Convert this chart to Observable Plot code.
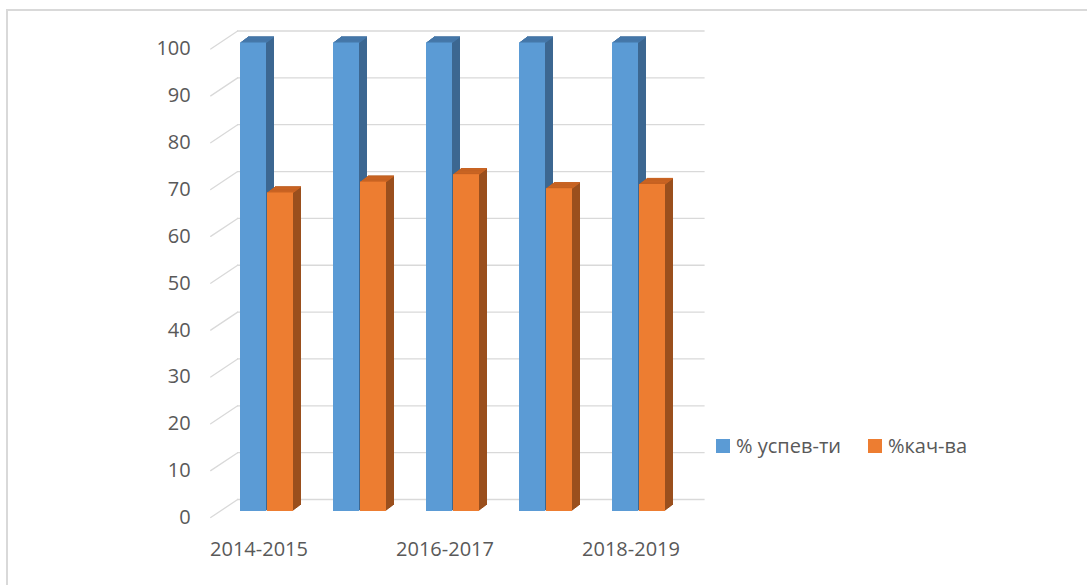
<!DOCTYPE html>
<html>
<head>
<meta charset="utf-8">
<script src="https://cdn.jsdelivr.net/npm/d3@7"></script>
<script src="https://cdn.jsdelivr.net/npm/@observablehq/plot@0.6"></script>
<style>
  body { margin: 0; background: #fff; font-family: "Open Sans", sans-serif; }
  #frame { position: absolute; left: 6px; top: 9px; width: 1100px; height: 600px; border: 2px solid #d9d9d9; box-sizing: border-box; }
  #chart { position: absolute; left: 0; top: 0; }
  .leg { position: absolute; top: 433px; display: flex; align-items: center; font-size: 20px; color: #595959; line-height: 26px; white-space: nowrap; }
  .sw { width: 14px; height: 14px; margin-right: 6px; }
</style>
</head>
<body>
<div id="frame"></div>
<div id="chart"></div>
<div id="legend"></div>
<script>
// ---- data ----
const years = ["2014-2015", "2015-2016", "2016-2017", "2017-2018", "2018-2019"];
const xTickLabels = ["2014-2015", "2016-2017", "2018-2019"];
const seriesNames = ["% успев-ти", "%кач-ва"];
const uspev = [100, 100, 100, 100, 100];
const kach = [68, 70.3, 71.9, 68.9, 69.8];
const yTicks = [0, 10, 20, 30, 40, 50, 60, 70, 80, 90, 100];
const colors = ["#5b9bd5", "#ed7d31"];
const topColors = ["#4678aa", "#c96423"];
const sideColors = ["#3c6791", "#9a4f1d"];

// ---- layout ----
const W = 1087, H = 585;
const mL = 219.2, mR = 400.2, mT = 42.5, mB = 74;
const pI = 0.4255, pO = 0.2;
const step = (W - mL - mR) / (years.length - pI + 2 * pO);
const half = step * (1 - pI) / 2;
const depth = 8, slope = 0.75;

const seriesData = [uspev, kach].map((vals, s) =>
  years.map((year, i) => ({ year, series: seriesNames[s], value: vals[i] }))
);

const lineShape = { draw(ctx, l) { ctx.moveTo(0, 0); ctx.lineTo(0, -l); } };

const marks = [
  Plot.ruleY(yTicks, { y: d => d, dx: 17.8, dy: -12, stroke: "#d9d9d9", strokeWidth: 1.3 }),
  Plot.vector(yTicks, { y: d => d, frameAnchor: "left", dx: -9, dy: 6, length: 32.4, rotate: 56.3, anchor: "start", shape: lineShape, stroke: "#d9d9d9", strokeWidth: 1.3 })
];

seriesData.forEach((data, s) => {
  const inset = s === 0 ? { insetRight: half } : { insetLeft: half };
  for (let k = depth; k >= 1; k--) {
    marks.push(Plot.barY(data, { x: "year", y: "value", fill: sideColors[s], dx: k, dy: -k * slope, ...inset }));
  }
  for (let k = 0; k <= depth; k++) {
    marks.push(Plot.tickY(data, { x: "year", y: "value", stroke: topColors[s], strokeWidth: 1.2, dx: k, dy: -k * slope, ...inset }));
  }
  marks.push(Plot.barY(data, { x: "year", y: "value", fill: colors[s], ...inset }));
});

marks.push(Plot.axisY({ ticks: yTicks, tickSize: 0, tickPadding: 29, dy: 6 }));
marks.push(Plot.axisX({ ticks: xTickLabels, tickSize: 0, tickPadding: 30, dx: -8 }));

const chart = Plot.plot({
  width: W, height: H,
  marginLeft: mL, marginRight: mR, marginTop: mT, marginBottom: mB,
  style: { fontFamily: "Open Sans", fontSize: "20px", color: "#595959", background: "transparent" },
  x: { domain: years, paddingInner: pI, paddingOuter: pO, label: null },
  y: { domain: [0, 100], label: null },
  marks
});
document.getElementById("chart").appendChild(chart);

// ---- legend ----
const legend = document.getElementById("legend");
const legLeft = [716, 868];
seriesNames.forEach((name, s) => {
  const item = document.createElement("div");
  item.className = "leg";
  item.style.left = legLeft[s] + "px";
  const sw = document.createElement("span");
  sw.className = "sw";
  sw.style.background = colors[s];
  const t = document.createElement("span");
  t.textContent = name;
  item.appendChild(sw);
  item.appendChild(t);
  legend.appendChild(item);
});
</script>
</body>
</html>
